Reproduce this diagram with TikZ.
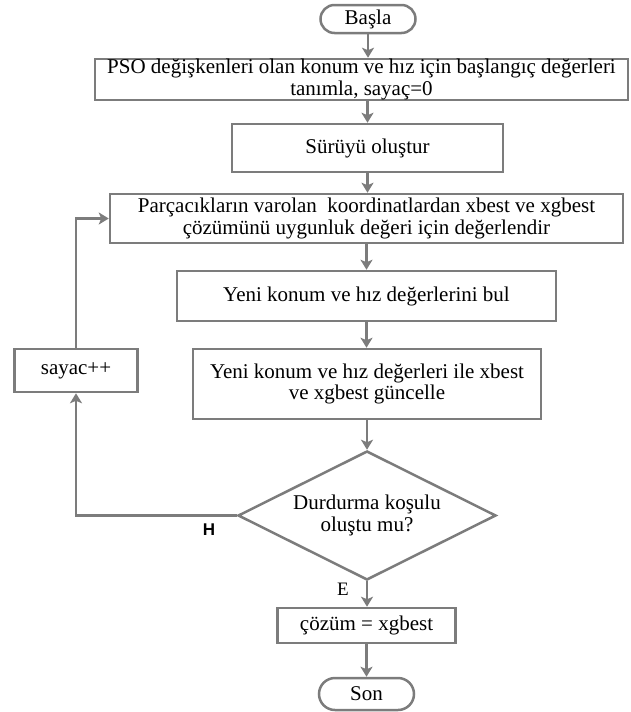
\documentclass[tikz,border=0pt]{standalone}
\usepackage{fontspec}
\setmainfont{Liberation Serif}
\newfontfamily\labelsans{Liberation Sans}
\usetikzlibrary{arrows.meta,shapes.geometric}
\definecolor{flowgray}{RGB}{124,124,124}

\begin{document}
\begin{tikzpicture}[x=1pt,y=-1pt,
  every node/.style={font=\fontsize{21}{21.5}\selectfont, align=center, inner sep=0pt},
  procbox/.style={draw=flowgray, line width=2.5pt, rectangle, fill=white},
  terminal/.style={draw=flowgray, line width=2.5pt, rectangle, rounded corners=#1, fill=white},
  decision/.style={draw=flowgray, line width=2.5pt, diamond, aspect=2, fill=white},
  flow/.style={draw=flowgray, line width=2.5pt,
    -{Stealth[length=10pt,width=12pt,inset=2.5pt]}},
  sanslabel/.style={font=\labelsans\bfseries\fontsize{17}{19}\selectfont},
  seriflabel/.style={font=\fontsize{19}{21}\selectfont}
]
\useasboundingbox (0,0) rectangle (630,712);

% main column
\node[terminal=14pt, minimum width=95, minimum height=28] (start) at (368,19) {Başla};
\node[procbox, minimum width=533, minimum height=41] (init) at (361.5,79.5)
  {PSO değişkenleri olan konum ve hız için başlangıç değerleri\\tanımla, sayaç=0};
\node[procbox, minimum width=271, minimum height=48] (swarm) at (367.5,148) {Sürüyü oluştur};
\node[procbox, minimum width=513, minimum height=49] (eval) at (366.5,218.5)
  {Parçacıkların varolan\ \ koordinatlardan xbest ve xgbest\\çözümünü uygunluk değeri için değerlendir};
\node[procbox, minimum width=379, minimum height=50] (newpos) at (366.5,296)
  {Yeni konum ve hız değerlerini bul};
\node[procbox, minimum width=348, minimum height=70] (update) at (367,384)
  {Yeni konum ve hız değerleri ile xbest\\ve xgbest güncelle};
\node[decision, minimum width=258, minimum height=129] (stop) at (367,515.5)
  {Durdurma koşulu\\oluştu mu?};
\node[procbox, minimum width=178, minimum height=35] (result) at (366.5,625.5)
  {çözüm = xgbest};
\node[terminal=16pt, minimum width=95, minimum height=32] (finish) at (366.5,694) {Son};

% loop counter
\node[procbox, minimum width=123, minimum height=43] (counter) at (76,370.5) {sayac++};

% branch labels
\node[sanslabel] (hlabel) at (209,530) {H};
\node[seriflabel] (elabel) at (343,589) {E};

% connectors
\draw[flow] (start.south) -- (start.south |- init.north);
\draw[flow] (swarm.north |- init.south) -- (swarm.north);
\draw[flow] (swarm.south) -- (swarm.south |- eval.north);
\draw[flow] (newpos.north |- eval.south) -- (newpos.north);
\draw[flow] (newpos.south) -- (newpos.south |- update.north);
\draw[flow] (update.south) -- (update.south |- stop.north);
\draw[flow] (stop.south) -- (stop.south |- result.north);
\draw[flow] (result.south) -- (result.south |- finish.north);
\draw[flow] (stop.west) -| (counter.south);
\draw[flow] (counter.north) |- (eval.west);
\end{tikzpicture}
\end{document}
